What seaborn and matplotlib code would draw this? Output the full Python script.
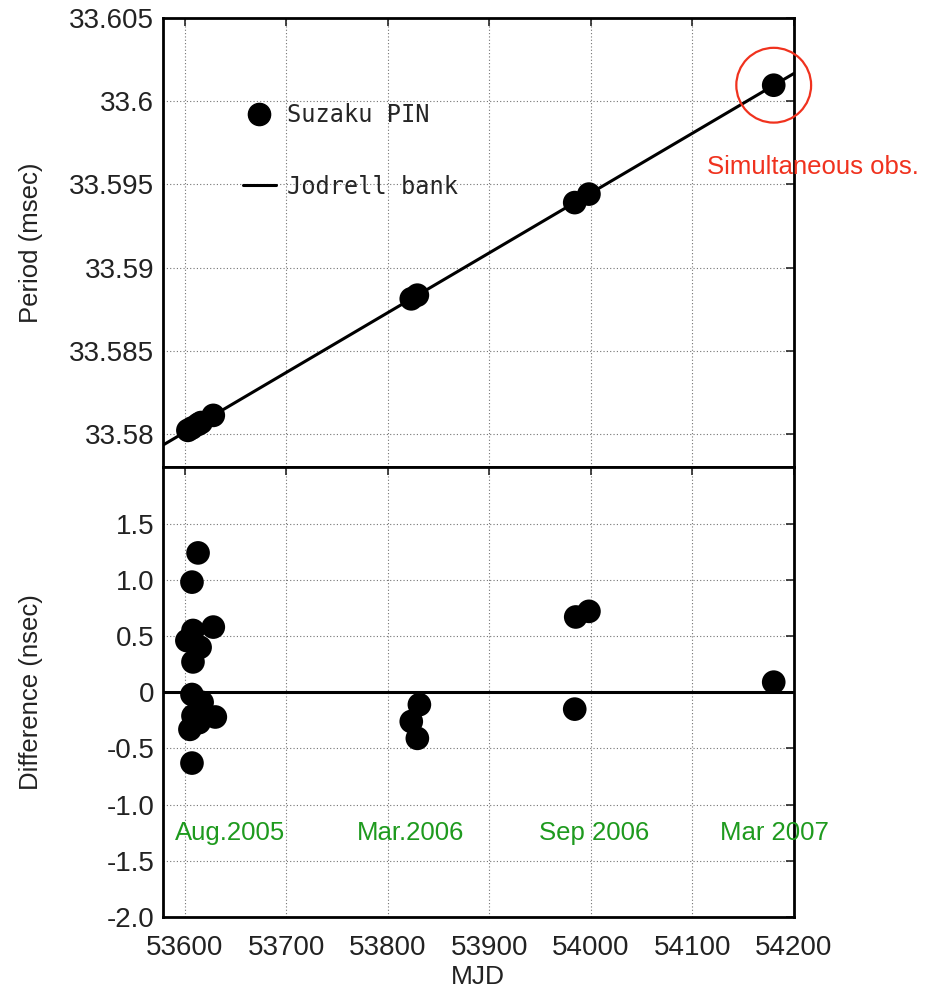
import numpy as np
import pandas as pd
import matplotlib
matplotlib.use("Agg")
import matplotlib.pyplot as plt
from matplotlib.lines import Line2D
import seaborn as sns

# Suzaku PIN pulse periods (msec)
pin_mjd = [53603, 53607, 53613, 53616, 53628, 53823, 53829, 53984, 53998, 54180]
pin_period = [33.58023, 33.58037, 33.58059, 33.58070, 33.58113,
              33.58813, 33.58835, 33.59391, 33.59442, 33.60096]

# Jodrell Bank ephemeris over the plotted span
jb_mjd = [53578, 54200]
jb_period = [33.57933, 33.60167]

# Suzaku minus Jodrell Bank period (nsec)
diff_mjd = [53613, 53607, 53608, 53628, 53602, 53615, 53608, 53607, 53617, 53608,
            53630, 53605, 53614, 53607, 53831, 53823, 53829, 53985, 53998, 53984, 54180]
diff_nsec = [1.24, 0.98, 0.55, 0.58, 0.46, 0.40, 0.27, -0.02, -0.09, -0.21,
             -0.22, -0.33, -0.27, -0.63, -0.11, -0.26, -0.41, 0.67, 0.72, -0.15, 0.09]

# Observation epochs
epoch_labels = ["Aug.2005", "Mar.2006", "Sep 2006", "Mar 2007"]
epoch_mjd = [53645, 53822, 54003, 54181]

mjd_ticks = [53600, 53700, 53800, 53900, 54000, 54100, 54200]
period_ticks = [33.58, 33.585, 33.59, 33.595, 33.6, 33.605]
diff_ticks = [-2.0, -1.5, -1.0, -0.5, 0.0, 0.5, 1.0, 1.5]

sns.set_style("white")
plt.rcParams["font.family"] = ["Liberation Sans", "DejaVu Sans"]
plt.rcParams["axes.linewidth"] = 2.0

pin = pd.DataFrame({"MJD": pin_mjd, "Period": pin_period})
jb = pd.DataFrame({"MJD": jb_mjd, "Period": jb_period})
dif = pd.DataFrame({"MJD": diff_mjd, "Diff": diff_nsec})

fig, (ax1, ax2) = plt.subplots(2, 1, sharex=True, figsize=(9.25, 9.97), dpi=100)
fig.subplots_adjust(left=0.1757, right=0.8584, top=0.982, bottom=0.0802, hspace=0)

grid_kw = dict(linestyle=(0, (1, 2)), color="0.45", linewidth=0.8)
tick_color = "#222222"

# ---- upper panel: period vs MJD
sns.lineplot(data=jb, x="MJD", y="Period", ax=ax1, color="black", lw=2.2, zorder=3)
sns.scatterplot(data=pin, x="MJD", y="Period", ax=ax1, color="black", s=290,
                edgecolor="none", zorder=4)
last = pin.iloc[[-1]]
sns.scatterplot(data=last, x="MJD", y="Period", ax=ax1, s=2900, facecolor="none",
                edgecolor="#f0321e", linewidth=1.6, zorder=5)
ax1.collections[-1].set_clip_on(False)
ax1.text(0.862, 0.668, "Simultaneous obs.", transform=ax1.transAxes, color="#f0321e",
         fontsize=18.5, ha="left", va="center", clip_on=False)

ax1.set_xlim(53578, 54200)
ax1.set_ylim(33.578, 33.605)
ax1.set_yticks(period_ticks)
ax1.set_yticklabels([f"{v:g}" for v in period_ticks])
ax1.set_xticks(mjd_ticks)
ax1.grid(True, **grid_kw)
ax1.set_ylabel("Period (msec)", fontsize=18.5, color=tick_color)
ax1.yaxis.set_label_coords(-0.19, 0.5)
ax1.set_xlabel("")

handles = [
    Line2D([], [], marker="o", color="black", linestyle="none", markersize=16),
    Line2D([], [], color="black", lw=2.2),
]
ax1.legend(handles, ["Suzaku PIN", "Jodrell bank"], loc="upper left",
           bbox_to_anchor=(0.093, 0.857), frameon=False,
           prop={"family": "DejaVu Sans Mono", "size": 17},
           labelspacing=2.0, handlelength=1.4, handletextpad=0.5)

# ---- lower panel: period difference
ax2.axhline(0, color="black", lw=2.2, zorder=3)
sns.scatterplot(data=dif, x="MJD", y="Diff", ax=ax2, color="black", s=290,
                edgecolor="none", zorder=4)
for lab, m in zip(epoch_labels, epoch_mjd):
    ax2.text(m, -1.25, lab, color="#1e9a1e", fontsize=18.5, ha="center", va="center")

ax2.set_ylim(-2.0, 2.0)
ax2.set_yticks(diff_ticks)
ax2.set_yticklabels(["0" if v == 0 else f"{v:.1f}" for v in diff_ticks])
ax2.grid(True, **grid_kw)
ax2.set_ylabel("Difference (nsec)", fontsize=18.5, color=tick_color)
ax2.yaxis.set_label_coords(-0.19, 0.5)
ax2.set_xlabel("MJD", fontsize=19, color=tick_color)
ax2.xaxis.set_label_coords(0.5, -0.106)

for ax in (ax1, ax2):
    ax.tick_params(direction="in", length=6, width=1.2, top=True, right=True,
                   labelsize=20, labelcolor=tick_color, pad=6)
    for sp in ax.spines.values():
        sp.set_visible(True)
        sp.set_color("black")
        sp.set_linewidth(2.0)
ax1.tick_params(labelbottom=False)
ax2.tick_params(axis="x", pad=13)

fig.savefig("out.png", dpi=100)
